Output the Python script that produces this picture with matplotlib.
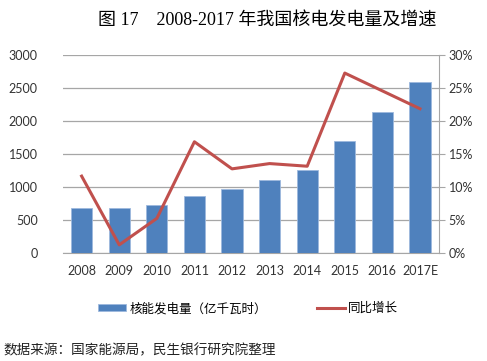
import matplotlib
matplotlib.use("Agg")
import matplotlib.pyplot as plt

plt.rcParams['font.family'] = ['Lato', 'Noto Sans CJK SC', 'DejaVu Sans']

years = ['2008', '2009', '2010', '2011', '2012', '2013', '2014', '2015', '2016', '2017E']
output = [683, 690, 738, 868, 970, 1106, 1262, 1700, 2136, 2600]
growth = [11.7, 1.3, 5.3, 16.9, 12.8, 13.6, 13.2, 27.3, 24.6, 21.9]

bar_color = '#4F81BD'
line_color = '#C0504D'
grid_color = '#A6A6A6'

fig = plt.figure(figsize=(4.87, 3.61), dpi=100)
ax = fig.add_axes([0.129, 0.298, 0.772, 0.549])
ax2 = ax.twinx()

x = range(len(years))
bars = ax.bar(x, output, width=0.56, color=bar_color, edgecolor='#9DB9DE',
              linewidth=0.6, zorder=3, label='核能发电量（亿千瓦时）')
line, = ax2.plot(x, growth, color=line_color, lw=2.2, zorder=4, label='同比增长')

ax.set_xlim(-0.5, len(years) - 0.5)
ax.set_ylim(0, 3000)
ax.set_yticks(range(0, 3001, 500))
ax2.set_ylim(0, 30)
ax2.set_yticks(range(0, 31, 5))
ax2.set_yticklabels([f'{v}%' for v in range(0, 31, 5)])
ax.set_xticks(list(x))
ax.set_xticklabels(years)

ax.grid(axis='y', color=grid_color, lw=0.9, zorder=0)
ax.set_axisbelow(True)
for a in (ax, ax2):
    for s in ('top', 'left', 'right'):
        a.spines[s].set_visible(False)
    a.spines['bottom'].set_color(grid_color)
ax2.spines['right'].set_visible(True)
ax2.spines['right'].set_color(grid_color)
ax2.spines['bottom'].set_visible(False)

ax.tick_params(axis='y', length=0, labelsize=9, pad=18, colors='#333333')
ax.tick_params(axis='x', length=0, labelsize=9, pad=8, colors='#333333')
ax2.tick_params(axis='y', length=4, direction='out', labelsize=9, pad=3,
                colors='#333333')
ax2.tick_params(axis='y', color=grid_color)

fig.text(0.548, 0.944, '图 17　2008-2017 年我国核电发电量及增速', ha='center', va='center',
         fontsize=13, family=['Liberation Serif', 'Noto Sans CJK SC'])

fig.legend([bars, line], ['核能发电量（亿千瓦时）', '同比增长'], loc='center',
           bbox_to_anchor=(0.51, 0.147), ncol=2, frameon=False, fontsize=9,
           handlelength=2.2, handleheight=0.5, columnspacing=4.0, handletextpad=0.3)

fig.text(0.008, 0.03, '数据来源：国家能源局，民生银行研究院整理', ha='left', va='center',
         fontsize=9.8, color='#222222', family=['Noto Sans CJK SC'])

fig.savefig('out.png', dpi=100)
